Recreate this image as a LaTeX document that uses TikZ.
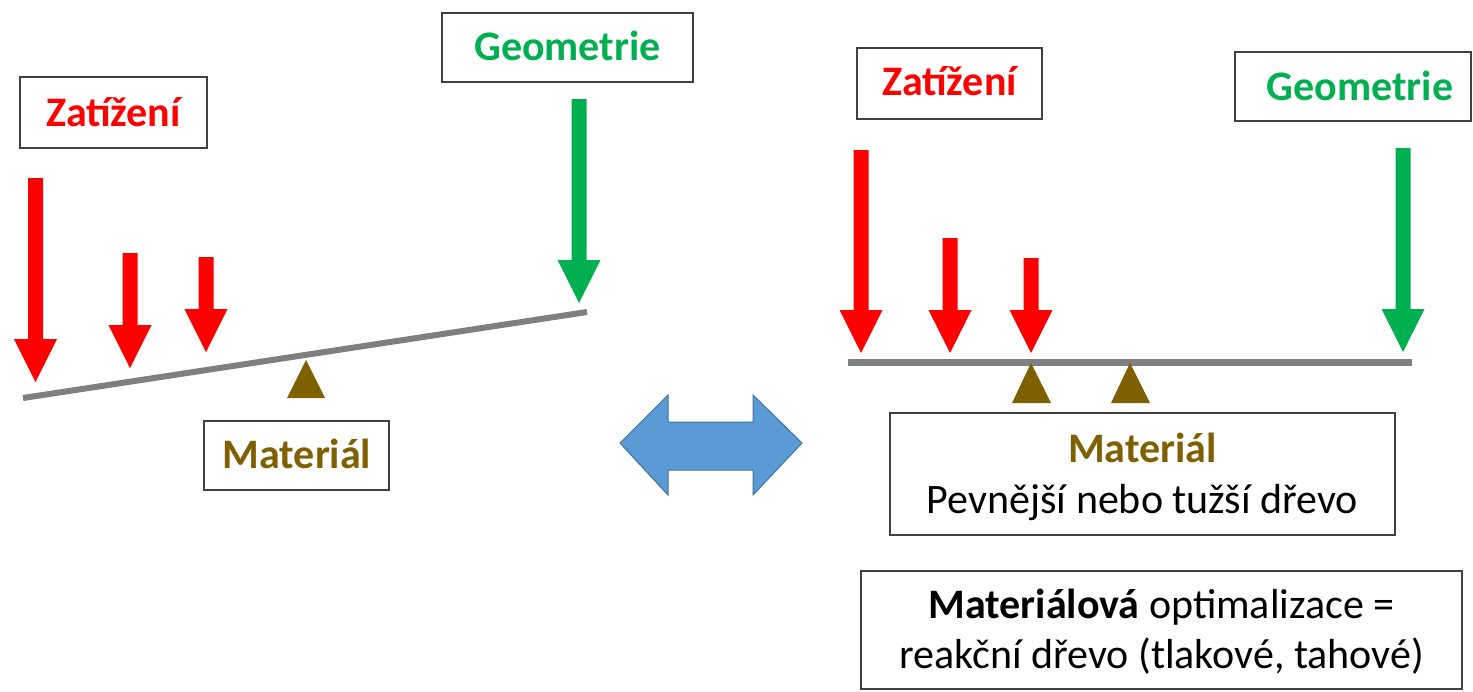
\documentclass[tikz,border=0pt]{standalone}
\usepackage{fontspec}
\setmainfont{Carlito}

\definecolor{loadred}{HTML}{FF0000}
\definecolor{geogreen}{HTML}{00B050}
\definecolor{matbrown}{HTML}{7F6000}
\definecolor{beamgray}{HTML}{7F7F7F}
\definecolor{framegray}{HTML}{404040}
\definecolor{swapblue}{HTML}{5B9BD5}
\definecolor{swapedge}{HTML}{41719C}

\tikzset{
  box/.style={draw=framegray, line width=1.8pt, fill=white, inner sep=0pt},
  txt/.style={anchor=base, inner sep=0pt, font=\fontsize{42}{51}\selectfont},
  beam/.style={draw=beamgray, line width=6pt},
  support/.style={fill=matbrown},
}

% block arrow pointing down: colour, centre x, top of shaft, tip
\newcommand{\loadarrow}[4]{%
  \fill[#1] ({#2-7.5},#3) -- ({#2+7.5},#3) -- ({#2+7.5},{#4-43})
    -- ({#2+21.5},{#4-43}) -- (#2,#4) -- ({#2-21.5},{#4-43})
    -- ({#2-7.5},{#4-43}) -- cycle;}

\begin{document}
\begin{tikzpicture}[x=1pt,y=-1pt]
\useasboundingbox (0,0) rectangle (1473,691);

% ---------- tilted lever ----------
\node[box, minimum width=187pt, minimum height=71pt] (zatL) at (113.5,112.5) {};
\node[txt, text=loadred] (zatLt) at (113.5,126) {\bfseries Zatížení};
\node[box, minimum width=251pt, minimum height=69pt] (geoL) at (567.5,47.5) {};
\node[txt, text=geogreen] (geoLt) at (567.5,60) {\bfseries Geometrie};
\node[box, minimum width=185pt, minimum height=69pt] (matL) at (296.5,455.5) {};
\node[txt, text=matbrown] (matLt) at (297,468) {\bfseries Materiál};

\coordinate (beamLa) at (23,398);
\coordinate (beamLb) at (587,312);
\draw[beam] (beamLa) -- (beamLb);
\fill[support] (287,398) -- (306,360) -- (325,398) -- cycle;

\loadarrow{loadred}{35.5}{178}{382}
\loadarrow{loadred}{130}{253}{368}
\loadarrow{loadred}{206}{257}{352}
\loadarrow{geogreen}{579}{99}{303}

% ---------- exchange arrow ----------
\filldraw[fill=swapblue, draw=swapedge, line width=1pt]
  (620,443) -- (668,395) -- (668,422) -- (753,422) -- (753,395)
  -- (802,443) -- (753,495) -- (753,470) -- (668,470) -- (668,495) -- cycle;

% ---------- balanced beam ----------
\node[box, minimum width=185pt, minimum height=71pt] (zatR) at (949.5,83.5) {};
\node[txt, text=loadred] (zatRt) at (949.5,95) {\bfseries Zatížení};
\node[box, minimum width=236pt, minimum height=69pt] (geoR) at (1353,86.5) {};
\node[txt, text=geogreen] (geoRt) at (1360,100) {\bfseries Geometrie};

\coordinate (beamRa) at (848,362);
\coordinate (beamRb) at (1412,362);
\draw[beam, line width=7pt] (beamRa) -- (beamRb);
\fill[support] (1012,403) -- (1031,363) -- (1051,403) -- cycle;
\fill[support] (1111,403) -- (1130,363) -- (1150,403) -- cycle;

\loadarrow{loadred}{861}{150}{353}
\loadarrow{loadred}{950}{238}{353}
\loadarrow{loadred}{1031}{258}{353}
\loadarrow{geogreen}{1403}{148}{352}

\node[box, minimum width=505pt, minimum height=122pt] (matR) at (1142.5,474) {};
\node[txt, text=matbrown] (matRt) at (1142.5,462) {\bfseries Materiál};
\node[txt] (matRs) at (1142.5,513) {Pevnější nebo tužší dřevo};

\node[box, minimum width=601pt, minimum height=118pt] (optR) at (1161.5,630) {};
\node[txt] (optRa) at (1161.5,618) {\bfseries Materiálová\mdseries{} optimalizace =};
\node[txt] (optRb) at (1161.5,668) {reakční dřevo (tlakové, tahové)};
\end{tikzpicture}
\end{document}
